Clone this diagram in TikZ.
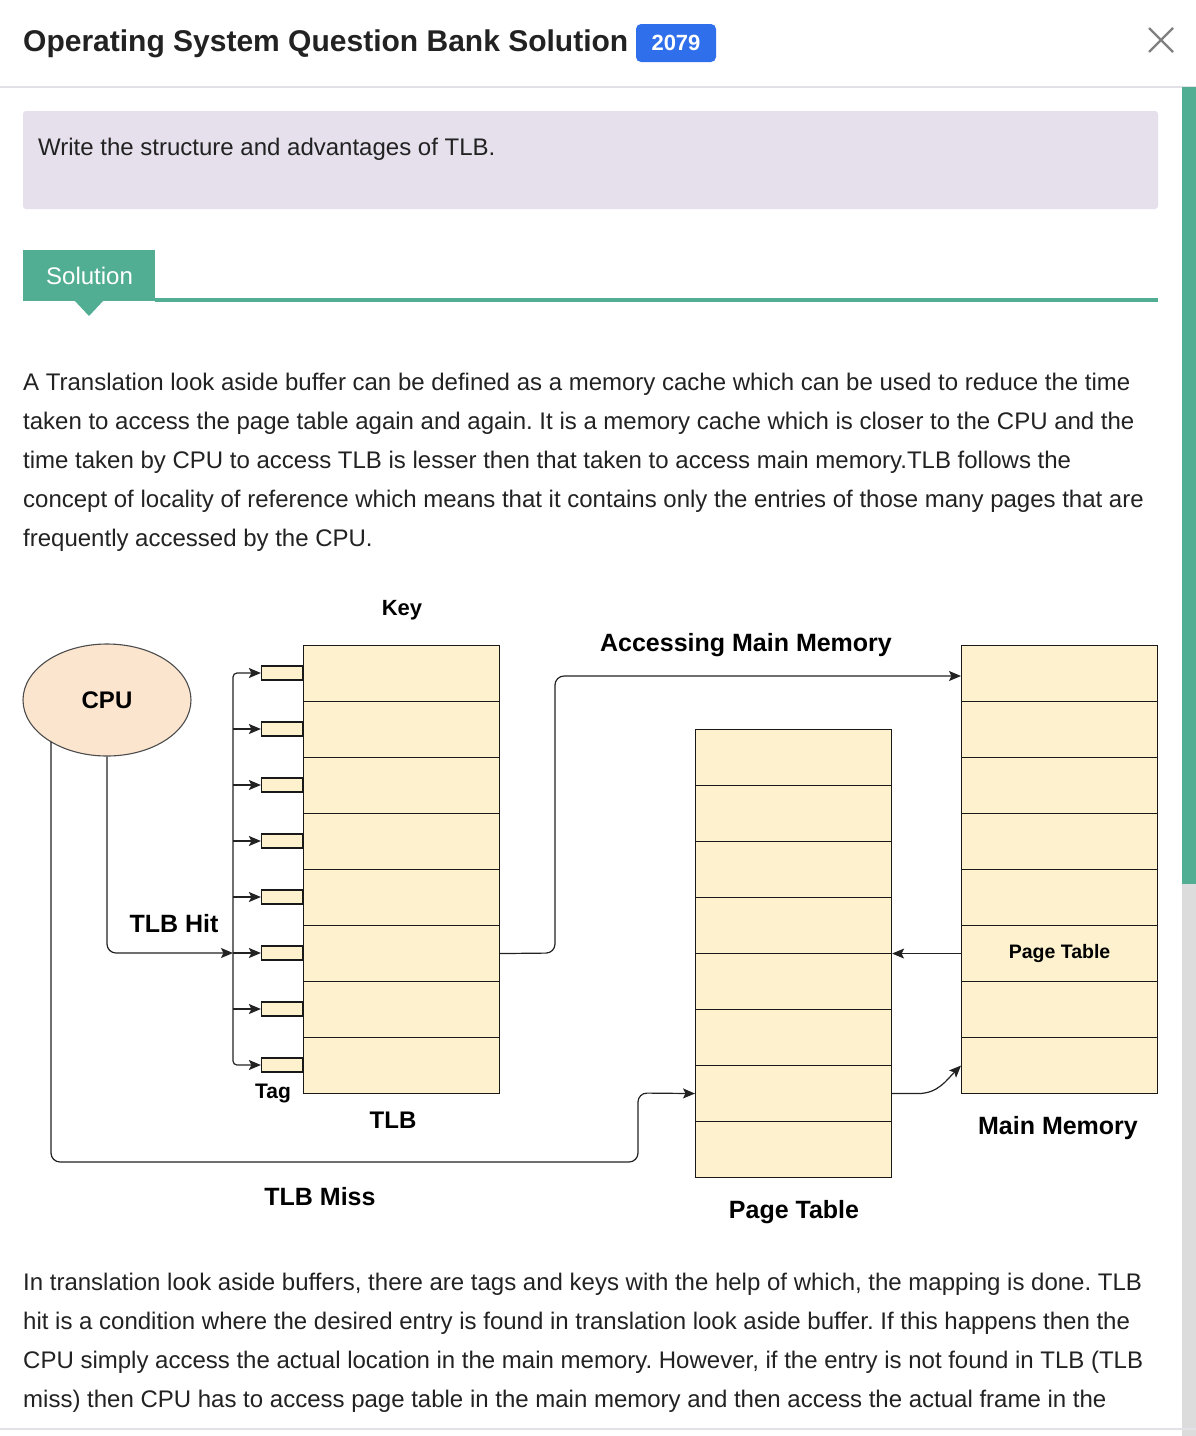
\documentclass[tikz,border=0pt]{standalone}
\usepackage{fontspec}
\setmainfont{Liberation Sans}
\usetikzlibrary{arrows.meta,shapes.geometric,calc}
\definecolor{solgreen}{HTML}{52AE92}
\definecolor{badgeblue}{HTML}{2F6FEB}
\definecolor{lav}{HTML}{E6DFEC}
\definecolor{peach}{HTML}{FBE5CF}
\definecolor{cellfill}{HTML}{FDF1CE}
\definecolor{txt}{HTML}{222222}
\definecolor{sepgray}{HTML}{E2E2E6}
\definecolor{scrollgray}{HTML}{DCDCDC}
\definecolor{linegray}{HTML}{222222}
\frenchspacing
\begin{document}
\begin{tikzpicture}[x=1pt,y=-1pt,
  body/.style={anchor=base west, inner sep=0, text=txt, font=\fontsize{24}{28}\selectfont},
  dlabel/.style={inner sep=0, text=black, font=\fontsize{25}{28}\selectfont\bfseries},
  cell/.style={draw=black!90, fill=cellfill, line width=1.1pt, minimum width=196pt, minimum height=56pt, inner sep=0, anchor=north west},
  tagbox/.style={draw=black!90, fill=cellfill, line width=1.1pt, minimum width=41pt, minimum height=14pt, inner sep=0, anchor=east},
  tip/.tip={Stealth[length=12pt,width=10pt,inset=2.5pt]},
  conn/.style={draw=linegray, line width=1.2pt, -tip},
]
\useasboundingbox (0,0) rectangle (1196,1436);
\fill[white] (0,0) rectangle (1196,1436);

% header
\node[anchor=base west, inner sep=0, text=txt, font=\fontsize{30}{34}\selectfont\bfseries] (title) at (23,51) {Operating System Question Bank Solution};
\node[fill=badgeblue, rounded corners=5pt, text=white, font=\fontsize{22}{26}\selectfont\bfseries, minimum width=80pt, minimum height=38pt, inner sep=0] (badge) at (676,43) {2079};
\coordinate (xa) at (1149,28); \coordinate (xb) at (1173,52);
\coordinate (xc) at (1149,52); \coordinate (xd) at (1173,28);
\draw[gray, line width=2.2pt] (xa) -- (xb) (xc) -- (xd);
\draw[sepgray, line width=1.2pt] (0,87) -- (1196,87);

% scrollbar
\fill[scrollgray] (1182,884) rectangle (1196,1436);
\fill[solgreen] (1182,87) rectangle (1196,884);

% question box
\fill[lav, rounded corners=3pt] (23,111) rectangle (1158,209);
\node[body] (q) at (38,155) {Write the structure and advantages of TLB.};

% solution tab
\fill[solgreen] (23,250) rectangle (155,301);
\fill[solgreen] (155,298) rectangle (1158,301.5);
\fill[solgreen] (74,300) -- (104,300) -- (89,316) -- cycle;
\node[anchor=base west, inner sep=0, text=white, font=\fontsize{24}{28}\selectfont] (sol) at (46,284) {Solution};

% first paragraph
\node[body] (a1) at (23,390) {A Translation look aside buffer can be defined as a memory cache which can be used to reduce the time};
\node[body] (a2) at (23,429) {taken to access the page table again and again. It is a memory cache which is closer to the CPU and the};
\node[body] (a3) at (23,468) {time taken by CPU to access TLB is lesser then that taken to access main memory.TLB follows the};
\node[body] (a4) at (23,507) {concept of locality of reference which means that it contains only the entries of those many pages that are};
\node[body] (a5) at (23,546) {frequently accessed by the CPU.};

% ===== diagram =====
\node[ellipse, draw=black!70, fill=peach, line width=1.1pt, minimum width=168pt, minimum height=112pt, inner sep=0, font=\fontsize{24}{28}\selectfont\bfseries] (cpu) at (107,700) {CPU};

\foreach \i in {1,...,8} {
  \node[cell] (t\i) at (303,{645+56*(\i-1)}) {};
  \node[tagbox] (g\i) at (303,{673+56*(\i-1)}) {};
  \node[cell] (p\i) at (695,{729+56*(\i-1)}) {};
  \node[cell] (m\i) at (961,{645+56*(\i-1)}) {};
}
\node[inner sep=0, font=\fontsize{19.5}{22}\selectfont\bfseries] (mlabel) at (m6.center) {Page Table};

% bus
\coordinate (bustop) at (233,673);
\coordinate (busbot) at (233,1065);
\draw[conn, tip-tip, rounded corners=4pt] (g1.west) -- (bustop) -- (busbot) -- (g8.west);
\foreach \i in {2,...,7} {
  \draw[conn] (g\i.west -| bustop) -- (g\i.west);
}

% TLB hit
\coordinate (hitend) at (233,953);
\draw[conn, rounded corners=9pt] (cpu.south) |- (hitend);

% TLB miss
\coordinate (missstart) at ($(cpu.center)+(-56,41.7)$);
\draw[conn, rounded corners=9pt] (missstart) -- (51,1162) -- (638,1162) -- (638,1093) -- (p7.west);

% access main memory
\draw[conn, rounded corners=9pt] (t6.east) -- (555,953) -- (555,676) -- (m1.west |- 0,676);

% main memory page table -> page table
\draw[conn] (m6.west) -- (m6.west -| p4.east);

% page table -> main memory
\draw[conn] (p7.east) -- ++(26,0) to[out=0,in=-135] (m8.west);

% labels
\node[dlabel, font=\fontsize{22}{26}\selectfont\bfseries] (key) at (402,610) {Key};
\node[dlabel] (acc) at (746,645) {Accessing Main Memory};
\node[dlabel] (hit) at (174,924) {TLB Hit};
\node[dlabel, font=\fontsize{21}{24}\selectfont\bfseries] (tag) at (273,1093) {Tag};
\node[dlabel, font=\fontsize{24}{28}\selectfont\bfseries] (tlb) at (393,1120) {TLB};
\node[dlabel] (mm) at (1058,1128) {Main Memory};
\node[dlabel] (miss) at (320,1197) {TLB Miss};
\node[dlabel] (pt) at (794,1212) {Page Table};

% second paragraph
\node[body] (b1) at (23,1290) {In translation look aside buffers, there are tags and keys with the help of which, the mapping is done. TLB};
\node[body] (b2) at (23,1329) {hit is a condition where the desired entry is found in translation look aside buffer. If this happens then the};
\node[body] (b3) at (23,1368) {CPU simply access the actual location in the main memory. However, if the entry is not found in TLB (TLB};
\node[body] (b4) at (23,1407) {miss) then CPU has to access page table in the main memory and then access the actual frame in the};

\draw[sepgray, line width=1.5pt] (0,1429) -- (1196,1429);
\end{tikzpicture}
\end{document}
